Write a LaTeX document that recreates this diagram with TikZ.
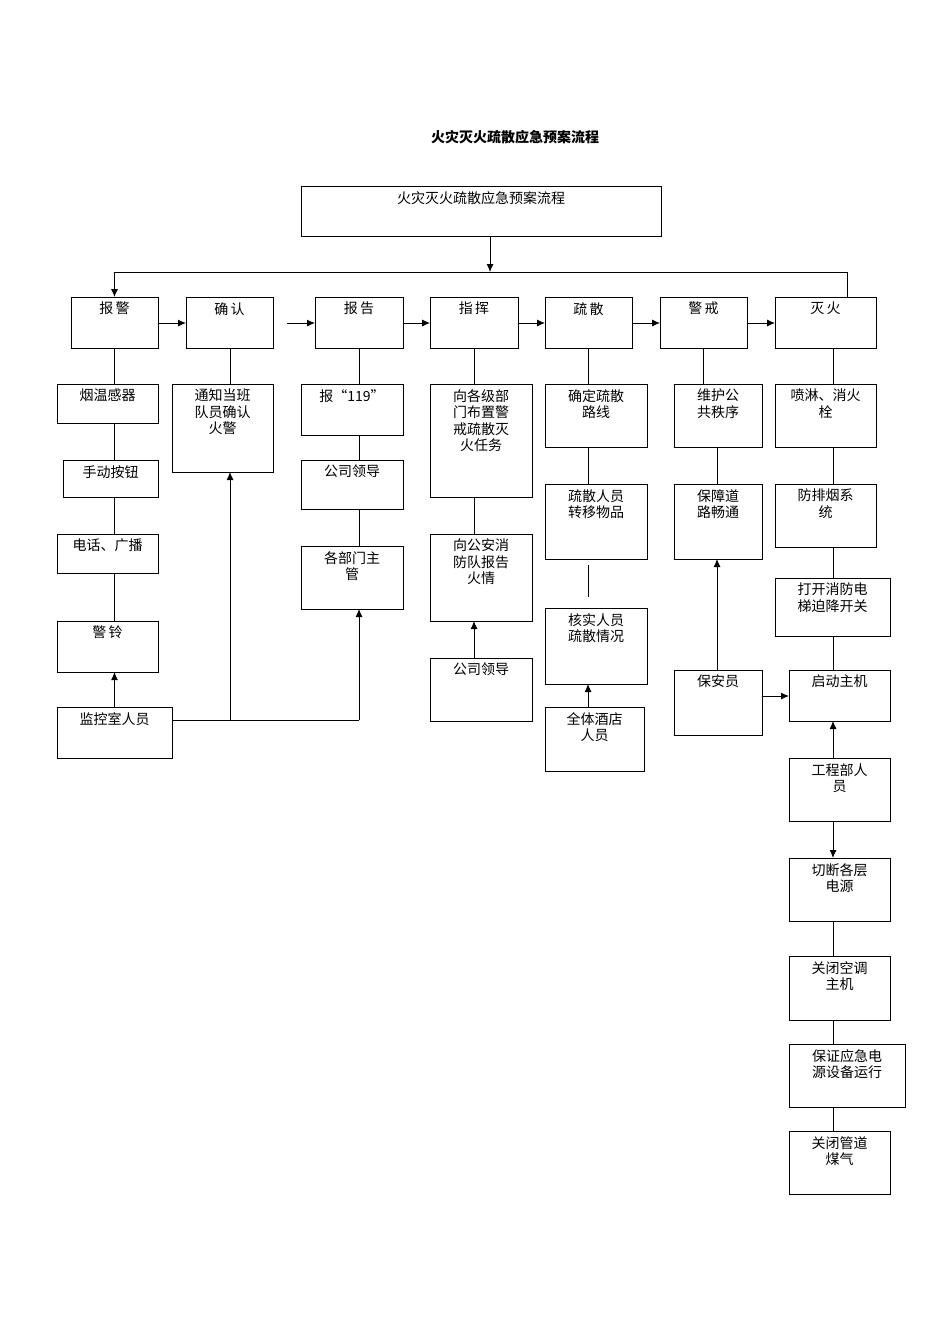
\documentclass[tikz,border=0pt]{standalone}
\usepackage{fontspec}
\setmainfont{Noto Sans CJK SC}
\usetikzlibrary{arrows.meta}
\newcommand\bx[6]{\node[box,minimum width=#4-#2,minimum height=#5-#3,anchor=north west,label={[lab]north:{#6}}] (#1) at (#2,#3) {};}
\begin{document}
\begin{tikzpicture}[x=1pt,y=-1pt,
  box/.style={draw,line width=0.9pt,inner sep=0,outer sep=0},
  lab/.style={anchor=north,yshift=-5pt,align=center,font=\fontsize{14}{16.5}\selectfont,inner sep=0},
  ln/.style={line width=0.9pt},
  arr/.style={ln,-{Latex[length=8pt,width=7pt]}}]
\useasboundingbox (0,0) rectangle (950,1344);
\node[font=\bfseries\fontsize{14}{16}\selectfont] (title) at (515,137) {火灾灭火疏散应急预案流程};
\bx{top}{301}{186}{661}{236}{火灾灭火疏散应急预案流程}
\bx{a}{71}{297}{158}{348}{报\,警}
\bx{b}{186}{297}{273}{348}{确\,认}
\bx{c}{315}{297}{403}{348}{报\,告}
\bx{d}{430}{297}{518}{348}{指\,挥}
\bx{e}{545}{297}{632}{348}{疏\,散}
\bx{f}{660}{297}{747}{348}{警\,戒}
\bx{g}{775}{297}{876}{348}{灭\,火}
\coordinate (j) at (490,272);
\coordinate (cin) at (287,323);
\draw[arr] (top.south -| j) -- (j);
\draw[arr] (847,272) -- (114.5,272) -- (a.north);
\draw[ln] (847,272) -- (847,297);
\draw[arr] (a.east |- cin) -- (b.west |- cin);
\draw[arr] (cin) -- (c.west |- cin);
\draw[arr] (c.east |- cin) -- (d.west |- cin);
\draw[arr] (d.east |- cin) -- (e.west |- cin);
\draw[arr] (e.east |- cin) -- (f.west |- cin);
\draw[arr] (f.east |- cin) -- (g.west |- cin);
% col 1
\bx{a1}{57}{384}{158}{423}{烟温感器}
\bx{a2}{63}{460}{158}{497}{手动按钮}
\bx{a3}{57}{534}{158}{573}{电话、广播}
\bx{a4}{57}{621}{158}{672}{警\,铃}
\bx{a5}{57}{707}{172}{758}{监控室人员}
\draw[ln] (a.south) -- (a.south |- a1.north);
\draw[ln] (a.south |- a1.south) -- (a.south |- a2.north);
\draw[ln] (a.south |- a2.south) -- (a.south |- a3.north);
\draw[ln] (a.south |- a3.south) -- (a.south |- a4.north);
\draw[arr] (a.south |- a5.north) -- (a.south |- a4.south);
% col 2
\bx{b1}{172}{384}{273}{472}{通知当班\\队员确认\\火警}
\draw[ln] (230,348) -- (230,384);
% col 3
\bx{c1}{301}{384}{403}{435}{报“119”}
\bx{c2}{301}{460}{403}{509}{公司领导}
\bx{c3}{301}{546}{403}{609}{各部门主\\管}
\draw[ln] (359,348) -- (359,384);
\draw[ln] (359,435) -- (359,460);
\draw[ln] (359,509) -- (359,546);
\coordinate (m) at (230,720);
\draw[ln] (a5.east |- m) -- (359,720);
\draw[arr] (m) -- (230,472);
\draw[arr] (359,720) -- (359,609);
% col 4
\bx{d1}{430}{384}{532}{497}{向各级部\\门布置警\\戒疏散灭\\火任务}
\bx{d2}{430}{534}{532}{621}{向公安消\\防队报告\\火情}
\bx{d3}{430}{658}{532}{721}{公司领导}
\draw[ln] (474,348) -- (474,384);
\draw[ln] (474,497) -- (474,534);
\draw[arr] (474,658) -- (474,621);
% col 5
\bx{e1}{545}{384}{647}{447}{确定疏散\\路线}
\bx{e2}{545}{484}{647}{559}{疏散人员\\转移物品}
\bx{e3}{545}{608}{647}{684}{核实人员\\疏散情况}
\bx{e4}{545}{707}{644}{771}{全体酒店\\人员}
\draw[ln] (588,348) -- (588,384);
\draw[ln] (588,447) -- (588,484);
\draw[ln] (588,565) -- (588,597);
\draw[arr] (588,707) -- (588,684);
% col 6
\bx{f1}{674}{384}{762}{447}{维护公\\共秩序}
\bx{f2}{674}{484}{762}{559}{保障道\\路畅通}
\bx{f3}{674}{670}{762}{735}{保安员}
\draw[ln] (703,348) -- (703,384);
\draw[ln] (717,447) -- (717,484);
\draw[arr] (717,670) -- (717,559);
% col 7
\bx{g1}{775}{384}{876}{447}{喷淋、消火\\栓}
\bx{g2}{775}{484}{876}{547}{防排烟系\\统}
\bx{g3}{775}{578}{890}{636}{打开消防电\\梯迫降开关}
\bx{g4}{789}{670}{890}{721}{启动主机}
\bx{g5}{789}{758}{890}{821}{工程部人\\员}
\bx{g6}{789}{858}{890}{921}{切断各层\\电源}
\bx{g7}{789}{956}{890}{1020}{关闭空调\\主机}
\bx{g8}{789}{1044}{905}{1107}{保证应急电\\源设备运行}
\bx{g9}{789}{1131}{890}{1194}{关闭管道\\煤气}
\draw[ln] (833,348) -- (833,384);
\draw[ln] (833,447) -- (833,484);
\draw[ln] (833,547) -- (833,578);
\draw[ln] (833,636) -- (833,670);
\draw[arr] (f3.east |- 0,696) -- (g4.west |- 0,696);
\draw[arr] (833,758) -- (833,721);
\draw[arr] (833,821) -- (833,858);
\draw[ln] (833,921) -- (833,956);
\draw[ln] (833,1020) -- (833,1044);
\draw[ln] (833,1107) -- (833,1131);
\end{tikzpicture}
\end{document}
